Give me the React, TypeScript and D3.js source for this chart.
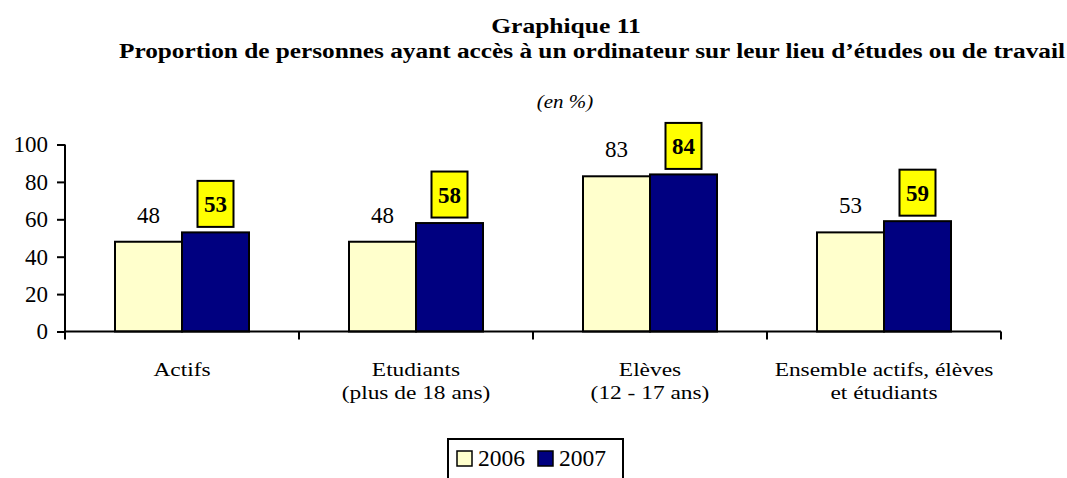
import { useEffect, useRef } from 'react';
import * as d3 from 'd3';

const categories = [
  ['Actifs'],
  ['Etudiants', '(plus de 18 ans)'],
  ['Elèves', '(12 - 17 ans)'],
  ['Ensemble actifs, élèves', 'et étudiants'],
];
const series2006 = [48, 48, 83, 53];
const series2007 = [53, 58, 84, 59];
const years = ['2006', '2007'];
const yTicks = [0, 20, 40, 60, 80, 100];

const FONT = '"Liberation Serif", "Times New Roman", serif';

export default function App() {
  const svgRef = useRef<SVGSVGElement>(null);

  useEffect(() => {
    if (!svgRef.current) return;
    const width = 1067;
    const height = 478;

    const svg = d3.select(svgRef.current);
    svg.selectAll('*').remove();
    svg.attr('width', width).attr('height', height).style('font-family', FONT);

    svg.append('rect').attr('width', width).attr('height', height).attr('fill', '#fff');

    // text stretched horizontally (the original is a bit wide)
    const wideText = (px: number, py: number, txt: string, size: number, sx: number) => {
      const t = svg.append('g')
        .attr('transform', `translate(${px},${py}) scale(${sx},1)`)
        .append('text')
        .attr('text-anchor', 'middle')
        .style('font-size', size + 'px')
        .text(txt);
      return t;
    };

    // Title
    wideText(566, 33, 'Graphique 11', 22, 1.16).style('font-weight', 'bold');
    wideText(592, 58, 'Proportion de personnes ayant accès à un ordinateur sur leur lieu d\u2019études ou de travail', 22, 1.15)
      .style('font-weight', 'bold');
    wideText(565, 108, '(en %)', 19, 1.1).style('font-style', 'italic');

    const left = 65;
    const right = 1001;
    const y = d3.scaleLinear().domain([0, 100]).range([331.5, 144.5]);
    const x = d3.scaleBand<number>()
      .domain(d3.range(categories.length))
      .range([left, right])
      .paddingInner(0).paddingOuter(0);
    const inner = d3.scaleBand<string>().domain(years).range([50, x.bandwidth() - 50]);

    const g = svg.append('g');

    // Bars
    const colors = ['#ffffcc', '#000080'];
    [series2006, series2007].forEach((vals, si) => {
      g.selectAll(null)
        .data(vals)
        .enter()
        .append('rect')
        .attr('x', (_, i) => (x(i) as number) + (inner(years[si]) as number))
        .attr('y', d => y(d))
        .attr('width', inner.bandwidth())
        .attr('height', d => y(0) - y(d))
        .attr('fill', colors[si])
        .attr('stroke', '#000')
        .attr('stroke-width', 2);
    });

    // 2006 labels
    g.selectAll(null)
      .data(series2006)
      .enter()
      .append('text')
      .attr('x', (_, i) => (x(i) as number) + (inner('2006') as number) + inner.bandwidth() / 2)
      .attr('y', d => y(d) - 19)
      .attr('text-anchor', 'middle')
      .style('font-size', '23px')
      .text(d => d);

    // 2007 labels in yellow boxes
    const lbl = g.selectAll(null)
      .data(series2007)
      .enter()
      .append('g')
      .attr('transform', (d, i) => {
        const cx = (x(i) as number) + (inner('2007') as number) + inner.bandwidth() / 2;
        return `translate(${cx},${y(d) - 5.5})`;
      });
    lbl.append('rect')
      .attr('x', -18).attr('y', -46)
      .attr('width', 36).attr('height', 46)
      .attr('fill', '#ffff00')
      .attr('stroke', '#000')
      .attr('stroke-width', 2);
    lbl.append('text')
      .attr('x', 0).attr('y', -15)
      .attr('text-anchor', 'middle')
      .style('font-size', '23px').style('font-weight', 'bold')
      .text(d => d);

    // Y axis
    const yAxis = svg.append('g')
      .attr('transform', `translate(${left},0)`)
      .call(d3.axisLeft(y).tickValues(yTicks).tickSize(8).tickPadding(9));
    yAxis.select('.domain').attr('stroke', '#000').attr('stroke-width', 2)
      .attr('d', `M0,${y(100)}V${y(0) + 7}`);
    yAxis.selectAll('.tick line').attr('stroke', '#000').attr('stroke-width', 2);
    yAxis.selectAll('.tick text')
      .style('font-family', FONT).style('font-size', '23px').attr('fill', '#000');

    // X axis
    svg.append('line')
      .attr('x1', left).attr('x2', right)
      .attr('y1', y(0)).attr('y2', y(0))
      .attr('stroke', '#000').attr('stroke-width', 2);
    d3.range(categories.length + 1).forEach(i => {
      const tx = left + i * x.bandwidth();
      svg.append('line')
        .attr('x1', tx).attr('x2', tx)
        .attr('y1', y(0)).attr('y2', y(0) + 8)
        .attr('stroke', '#000').attr('stroke-width', 2);
    });
    categories.forEach((lines, i) => {
      const cx = (x(i) as number) + x.bandwidth() / 2;
      lines.forEach((t, li) => {
        wideText(cx, 376 + li * 23, t, 19.5, 1.2);
      });
    });

    // Legend
    const lg = svg.append('g');
    lg.append('rect')
      .attr('x', 448).attr('y', 439)
      .attr('width', 175).attr('height', 50)
      .attr('fill', '#fff').attr('stroke', '#000').attr('stroke-width', 2);
    const lx = [457, 538];
    years.forEach((yr, i) => {
      lg.append('rect')
        .attr('x', lx[i]).attr('y', 451)
        .attr('width', 15).attr('height', 15)
        .attr('fill', colors[i]).attr('stroke', '#000').attr('stroke-width', 1.5);
      lg.append('text')
        .attr('x', lx[i] + 21).attr('y', 466)
        .style('font-size', '23.5px')
        .text(yr);
    });
  }, []);

  return (
    <div style={{ position: 'absolute', left: 0, top: 0 }}>
      <svg ref={svgRef}></svg>
    </div>
  );
}
